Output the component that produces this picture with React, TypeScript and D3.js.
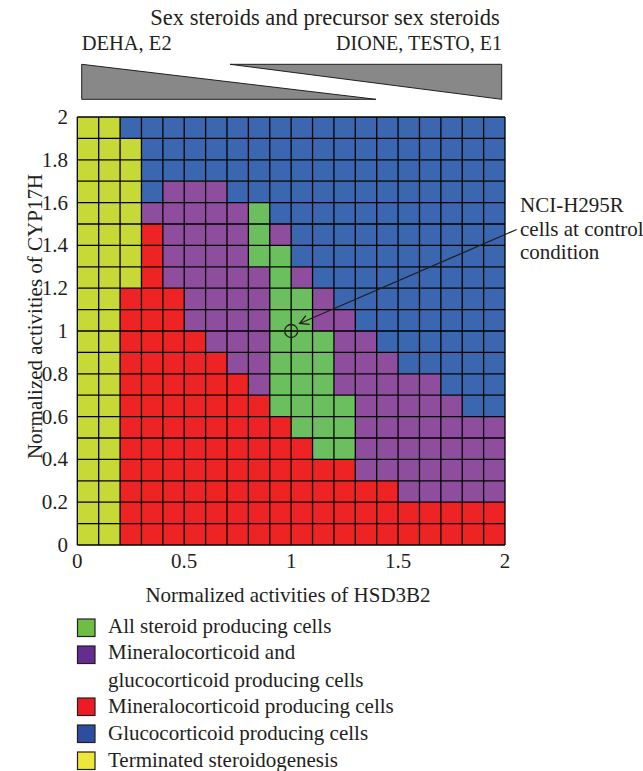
import React from "react";
import * as d3 from "d3";

// Categories (code -> label)
const categoryCodes = ["G", "P", "R", "B", "Y"];
const categoryLabels = [
  ["All steroid producing cells"],
  ["Mineralocorticoid and", "glucocorticoid producing cells"],
  ["Mineralocorticoid producing cells"],
  ["Glucocorticoid producing cells"],
  ["Terminated steroidogenesis"],
];
const cellColors = ["#6cbf5f", "#8f4e9d", "#ee2424", "#3a67b0", "#c6d937"];
const legendColors = ["#6cbe45", "#662d91", "#ed1c24", "#2d4e9f", "#eee63a"];

// Grid rows from top (CYP17H 1.9–2.0) to bottom (0–0.1); columns HSD3B2 0–2 in 0.1 steps
const gridRows = [
  "YYBBBBBBBBBBBBBBBBBB",
  "YYYBBBBBBBBBBBBBBBBB",
  "YYYBBBBBBBBBBBBBBBBB",
  "YYYBPPPBBBBBBBBBBBBB",
  "YYYPPPPPGBBBBBBBBBBB",
  "YYYRPPPPGPBBBBBBBBBB",
  "YYYRPPPPGGBBBBBBBBBB",
  "YYYRPPPPPGPBBBBBBBBB",
  "YYRRRPPPPGGPBBBBBBBB",
  "YYRRRPPPPGGPPBBBBBBB",
  "YYRRRRPPPGGGPPBBBBBB",
  "YYRRRRRPPGGGPPPBBBBB",
  "YYRRRRRRPGGGPPPPPBBB",
  "YYRRRRRRRGGGGPPPPPBB",
  "YYRRRRRRRRGGGPPPPPPP",
  "YYRRRRRRRRRGGPPPPPPP",
  "YYRRRRRRRRRRRPPPPPPP",
  "YYRRRRRRRRRRRRRPPPPP",
  "YYRRRRRRRRRRRRRRRRRR",
  "YYRRRRRRRRRRRRRRRRRR",
];
const cellStep = 0.1;

const xTicks = [0, 0.5, 1, 1.5, 2];
const xTickLabels = ["0", "0.5", "1", "1.5", "2"];
const yTicks = [0, 0.2, 0.4, 0.6, 0.8, 1, 1.2, 1.4, 1.6, 1.8, 2];
const yTickLabels = ["0", "0.2", "0.4", "0.6", "0.8", "1", "1.2", "1.4", "1.6", "1.8", "2"];

const controlPoint = { x: 1.0, y: 1.0 };
const annotationLines = ["NCI-H295R", "cells at control", "condition"];

const title = "Sex steroids and precursor sex steroids";
const leftGradientLabel = "DEHA, E2";
const rightGradientLabel = "DIONE, TESTO, E1";
const xTitle = "Normalized activities of HSD3B2";
const yTitle = "Normalized activities of CYP17H";

const W = 643;
const H = 771;
const FONT = "'Liberation Serif', 'Times New Roman', serif";

export default function App() {
  const x = d3.scaleLinear().domain([0, 2]).range([77.3, 505]);
  const y = d3.scaleLinear().domain([0, 2]).range([545, 117]);
  const color = d3.scaleOrdinal<string, string>().domain(categoryCodes).range(cellColors);

  const cells: { x0: number; y0: number; c: string }[] = [];
  gridRows.forEach((row, ri) => {
    const yTop = 2 - ri * cellStep;
    row.split("").forEach((c, ci) => {
      cells.push({ x0: ci * cellStep, y0: yTop, c });
    });
  });

  const gridVals = d3.range(0, 21).map((i) => i * cellStep);
  const cx = x(controlPoint.x);
  const cy = y(controlPoint.y);

  // arrow
  const ax0 = 516.7, ay0 = 229.5;
  const tipX = cx + 8.5, tipY = cy - 7.5;
  const ang = Math.atan2(ay0 - tipY, ax0 - tipX);
  const headLen = 10;
  const spread = 0.5;
  const h1 = [tipX + headLen * Math.cos(ang + spread), tipY + headLen * Math.sin(ang + spread)];
  const h2 = [tipX + headLen * Math.cos(ang - spread), tipY + headLen * Math.sin(ang - spread)];

  const fs = 21;
  const legendSwatchY = [619, 646, 698, 725, 752];
  const legendBaseY = [632.7, 659, 713, 740, 766.7];
  return (
    <svg width={W} height={H} style={{ position: "absolute", left: 0, top: 0, background: "#fff" }} fontFamily={FONT}>
      <rect width={W} height={H} fill="#fff" />
      {/* header */}
      <text x={325} y={25} textAnchor="middle" fontSize={22.5} fill="#231f20">{title}</text>
      <text x={81.7} y={50} fontSize={20.5} fill="#231f20">{leftGradientLabel}</text>
      <text x={502} y={50} textAnchor="end" fontSize={20} fill="#231f20">{rightGradientLabel}</text>
      <polygon points="81.7,64.3 81.7,99.3 376,99.3" fill="#888888" stroke="#231f20" strokeWidth={1} />
      <polygon points="230,64.3 501.7,64.3 501.7,99.3" fill="#888888" stroke="#231f20" strokeWidth={1} />

      {/* cells */}
      {cells.map((d, i) => (
        <rect
          key={i}
          x={x(d.x0)}
          y={y(d.y0)}
          width={x(d.x0 + cellStep) - x(d.x0)}
          height={y(d.y0 - cellStep) - y(d.y0)}
          fill={color(d.c)}
        />
      ))}
      {/* grid lines */}
      {gridVals.map((v, i) => (
        <line key={"v" + i} x1={x(v)} x2={x(v)} y1={y(0)} y2={y(2)} stroke="#000" strokeWidth={1.3} />
      ))}
      {gridVals.map((v, i) => (
        <line key={"h" + i} x1={x(0)} x2={x(2)} y1={y(v)} y2={y(v)} stroke="#000" strokeWidth={1.3} />
      ))}

      {/* ticks */}
      {xTicks.map((t, i) => (
        <text key={"xt" + i} x={x(t)} y={568} textAnchor="middle" fontSize={fs} fill="#231f20">{xTickLabels[i]}</text>
      ))}
      {yTicks.map((t, i) => (
        <text key={"yt" + i} x={68} y={y(t) + 7} textAnchor="end" fontSize={fs} fill="#231f20">{yTickLabels[i]}</text>
      ))}
      <text x={288} y={601.5} textAnchor="middle" fontSize={fs} fill="#231f20">{xTitle}</text>
      <text transform={`translate(41.5,316.5) rotate(-90)`} textAnchor="middle" fontSize={fs} fill="#231f20">{yTitle}</text>

      {/* annotation */}
      <circle cx={cx} cy={cy} r={6.5} fill="none" stroke="#231f20" strokeWidth={1.3} />
      <line x1={ax0} y1={ay0} x2={tipX} y2={tipY} stroke="#231f20" strokeWidth={1.3} />
      <polyline points={`${h1[0]},${h1[1]} ${tipX},${tipY} ${h2[0]},${h2[1]}`} fill="none" stroke="#231f20" strokeWidth={1.3} />
      {annotationLines.map((l, i) => (
        <text key={"an" + i} x={520} y={212 + i * 23.5} fontSize={fs} fill="#231f20">{l}</text>
      ))}

      {/* legend */}
      {categoryCodes.map((c, i) => (
        <g key={"lg" + i}>
          <rect x={77.5} y={legendSwatchY[i]} width={17.5} height={17.5} fill={legendColors[i]} stroke="#231f20" strokeWidth={1.2} />
          {categoryLabels[i].map((t, j) => (
            <text key={j} x={108} y={legendBaseY[i] + j * 27.7} fontSize={fs} fill="#231f20">{t}</text>
          ))}
        </g>
      ))}
    </svg>
  );
}
